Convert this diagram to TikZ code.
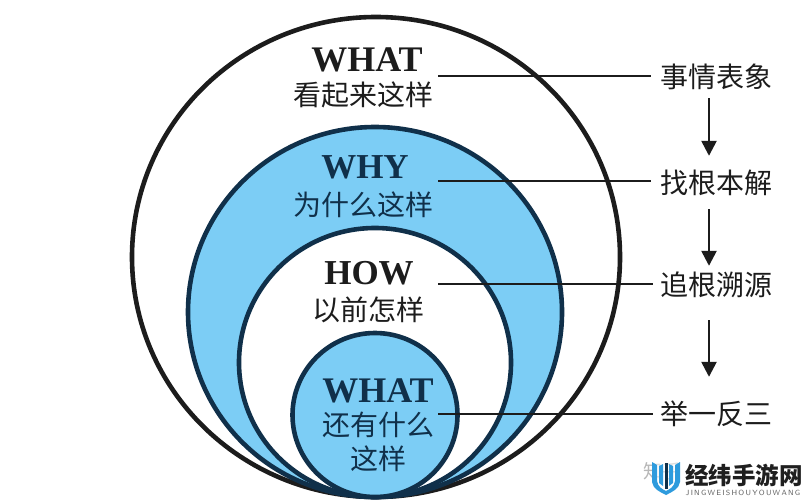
\documentclass[tikz,border=0pt]{standalone}
\usepackage{fontspec}
\setmainfont{Liberation Serif}
\newfontfamily\cjk{Noto Sans CJK SC}
\usetikzlibrary{arrows.meta}
\definecolor{ink}{HTML}{1C1C1C}
\definecolor{navy}{HTML}{10304A}
\definecolor{sky}{HTML}{7CCDF5}
\definecolor{brand}{HTML}{2E9BDD}
\tikzset{
  x=1pt,y=-1pt,
  ring/.style={line width=4.6pt},
  rule/.style={line width=2pt,draw=ink,line cap=butt},
  flow/.style={line width=2.5pt,draw=ink,-{Triangle[length=15pt,width=15pt]}},
  head/.style={inner sep=0pt,font=\fontsize{36}{36}\selectfont\bfseries},
  shorthead/.style={inner sep=0pt,font=\fontsize{35}{35}\selectfont\bfseries},
  zh/.style={inner sep=0pt,font=\fontsize{28}{30}\selectfont\cjk,align=center},
  step label/.style={inner sep=0pt,minimum height=30pt,font=\fontsize{28}{28}\selectfont\cjk,text=ink},
}
\begin{document}
\begin{tikzpicture}
\useasboundingbox (0,0) rectangle (810,500);
\fill[white] (0,0) rectangle (810,500);

% Nested rings, all touching near the bottom
\draw[ring,draw=ink,fill=white] (376,257) ellipse [x radius=244pt,y radius=240pt];
\draw[ring,draw=navy,fill=sky] (375,312) ellipse [x radius=187pt,y radius=185pt];
\draw[ring,draw=navy,fill=white] (375,362.5) ellipse [x radius=136pt,y radius=134.5pt];
\draw[ring,draw=navy,fill=sky] (375,415) ellipse [x radius=82.5pt,y radius=82pt];

% Ring captions
\node[head,text=ink] (what1) at (367,60) {WHAT};
\node[zh,text=ink] (what1zh) at (363,95) {看起来这样};
\node[shorthead,text=navy] (why) at (365,167) {WHY};
\node[zh,text=navy] (whyzh) at (363,205) {为什么这样};
\node[shorthead,text=ink] (how) at (369,273) {HOW};
\node[zh,text=ink] (howzh) at (368,310) {以前怎样};
\node[head,text=navy] (what2) at (378,391) {WHAT};
\node[zh,text=navy] (what2zh) at (378,425) {还有什么};
\node[zh,text=navy] (what2zhb) at (378,459) {这样};

% Step labels on the right
\node[step label] (fact) at (716,77) {事情表象};
\node[step label] (root) at (716,183) {找根本解};
\node[step label] (trace) at (716,285) {追根溯源};
\node[step label] (apply) at (716,414) {举一反三};

% Leader lines start just right of the captions
\coordinate (l1) at (438,76);
\coordinate (l2) at (438,181);
\coordinate (l3) at (438,284);
\coordinate (l4) at (438,413.5);
\draw[rule,shorten >=9pt] (l1) -- (l1 -| fact.west);
\draw[rule,shorten >=9pt] (l2) -- (l2 -| root.west);
\draw[rule,shorten >=7pt] (l3) -- (l3 -| trace.west);
\draw[rule,shorten >=7pt] (l4) -- (l4 -| apply.west);

% Downward flow between the steps
\draw[flow,shorten <=6pt,shorten >=12pt] ([xshift=-7pt]fact.south) -- ([xshift=-7pt]root.north);
\draw[flow,shorten <=11pt,shorten >=4pt] ([xshift=-7pt]root.south) -- ([xshift=-7pt]trace.north);
\draw[flow,shorten <=20pt,shorten >=22pt] ([xshift=-7pt]trace.south) -- ([xshift=-7pt]apply.north);

% Site mark in the corner
\node[inner sep=0pt,text=black!28,font=\fontsize{19}{19}\selectfont\cjk] (zhihu) at (662,471) {知乎};
\fill[white,opacity=.55] (652,460) rectangle (684,497);
\fill[brand] (652,462) -- (657,465) -- (657,481) .. controls (658,487) and (662,489) .. (666,491)
  .. controls (670,489) and (674,487) .. (675,481) -- (675,465) -- (680,462) -- (680,482)
  .. controls (679,489) and (672,492) .. (666,495) .. controls (660,492) and (653,489) .. (652,482) -- cycle;
\fill[brand] (659,466) -- (663,464) -- (663,486) -- (659,483) -- cycle;
\fill[navy] (664.5,463) rectangle (667.5,489);
\fill[brand] (669,464) -- (673,466) -- (673,483) -- (669,486) -- cycle;
\node[inner sep=0pt,text=black!88,font=\fontsize{23.5}{24}\selectfont\cjk\bfseries] (brandname) at (744,475) {经纬手游网};
\node[inner sep=0pt,text=black!62,font=\fontsize{7.5}{8}\selectfont\sffamily,
  minimum width=114pt] (brandpin) at (743,492.5) {J\,I\,N\,G\,W\,E\,I\,S\,H\,O\,U\,Y\,O\,U\,W\,A\,N\,G};
\end{tikzpicture}
\end{document}
